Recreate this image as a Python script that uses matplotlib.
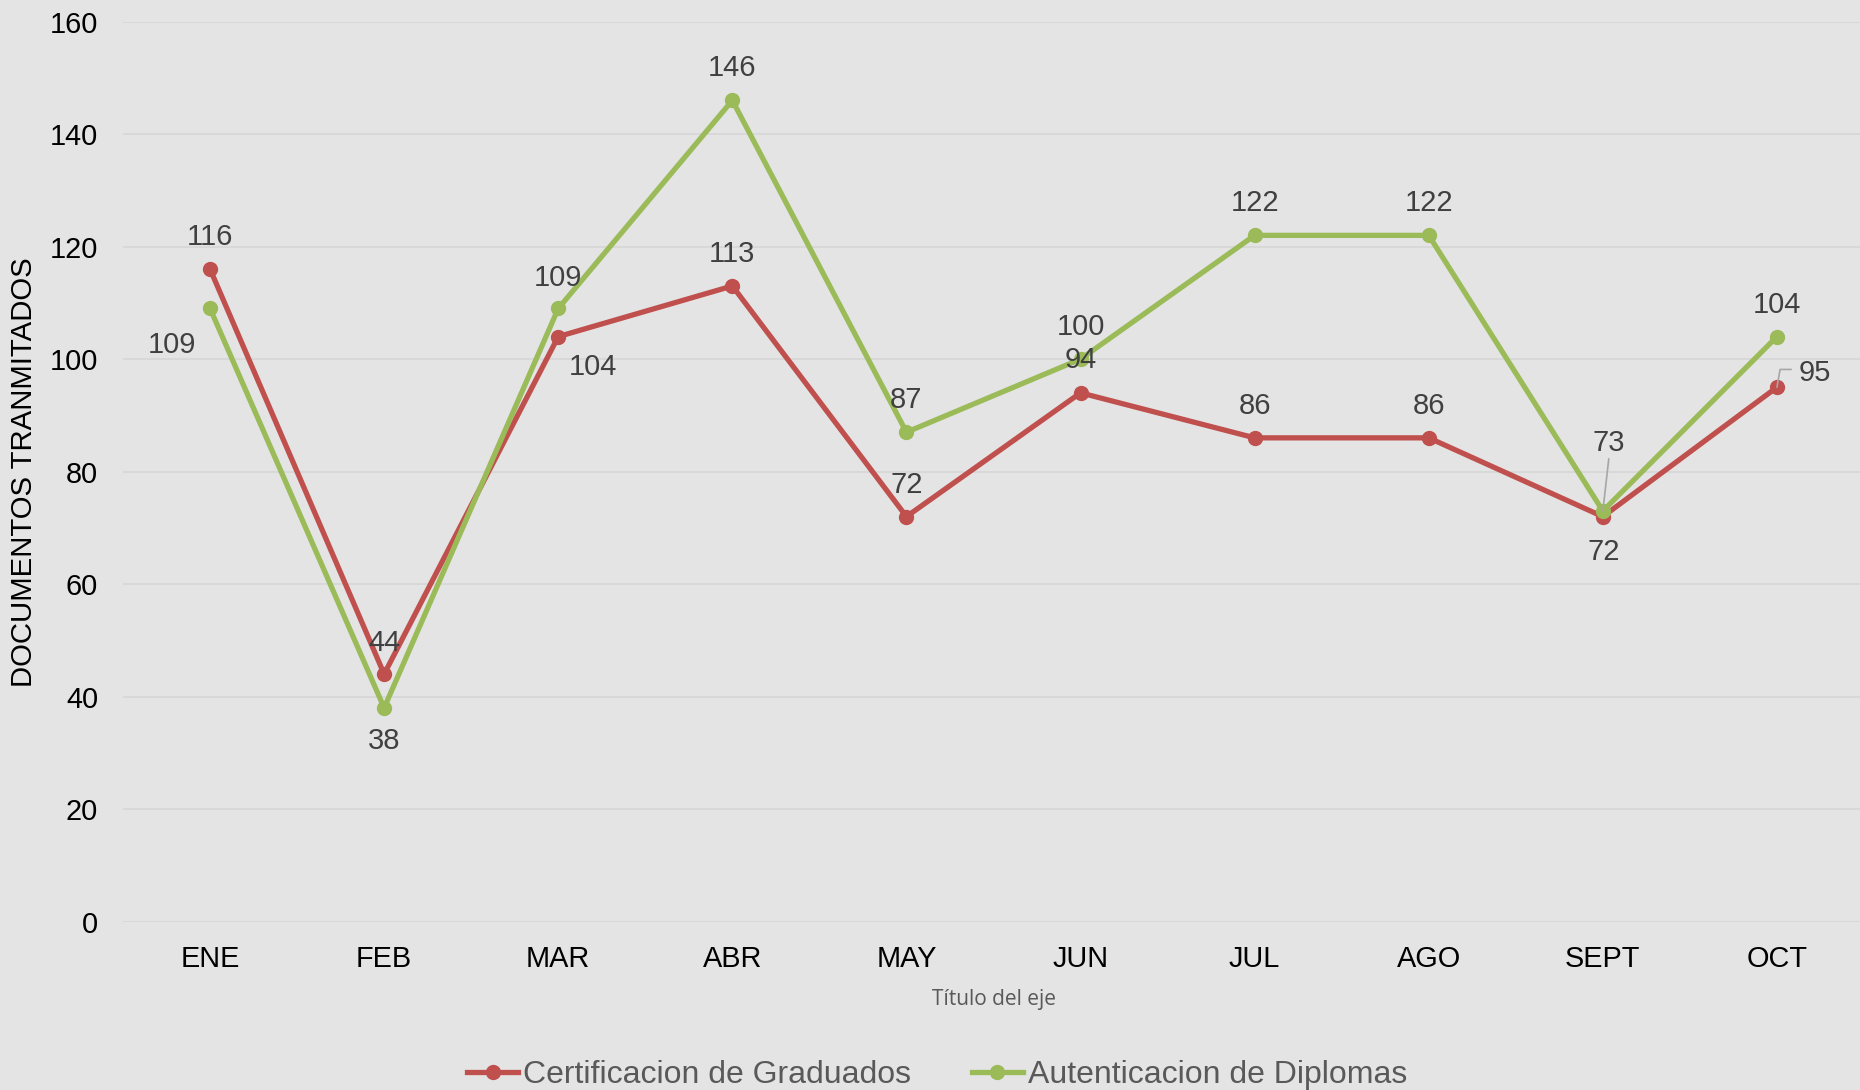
import matplotlib
matplotlib.use("Agg")
import matplotlib.pyplot as plt
from matplotlib.lines import Line2D

months = ["ENE", "FEB", "MAR", "ABR", "MAY", "JUN", "JUL", "AGO", "SEPT", "OCT"]
certificacion = [116, 44, 104, 113, 72, 94, 86, 86, 72, 95]
autenticacion = [109, 38, 109, 146, 87, 100, 122, 122, 73, 104]
yticks = [0, 20, 40, 60, 80, 100, 120, 140, 160]

RED = "#C0504D"
GREEN = "#9BBB59"
BG = "#E4E4E4"
LBL = "#404040"

plt.rcParams['font.family'] = ['Liberation Sans', 'DejaVu Sans']

fig = plt.figure(figsize=(18.6, 10.9), dpi=100)
fig.patch.set_facecolor(BG)
ax = fig.add_axes([123/1860, 1 - 921.6/1090, (1864 - 123)/1860, 900/1090])
ax.set_facecolor(BG)

x = list(range(len(months)))
ax.plot(x, certificacion, color=RED, lw=3.8, marker='o', ms=10, zorder=3,
        solid_capstyle='round')
ax.plot(x, autenticacion, color=GREEN, lw=3.8, marker='o', ms=10, zorder=4,
        solid_capstyle='round')

ax.set_xlim(-0.5, len(months) - 0.5)
ax.set_ylim(0, 160)
ax.set_yticks(yticks)
ax.set_xticks(x)
ax.set_xticklabels(months)
ax.tick_params(axis='both', length=0, labelsize=20.8, colors='black')
ax.tick_params(axis='y', pad=18)
ax.tick_params(axis='x', pad=17)
for s in ax.spines.values():
    s.set_visible(False)
ax.grid(axis='y', color='#D6D6D6', lw=1.2)
ax.set_axisbelow(True)

S = 1.186
# label offsets in (shrunk px) relative to point: dx, dy (dy positive = up)
red_off = [(0, 27), (0, 26), (29, -26), (0, 27), (0, 27), (0, 28), (0, 27), (0, 27), (1, -30), (32, 12)]
green_off = [(-32, -31), (0, -28), (0, 26), (0, 27), (0, 27), (0, 27), (0, 27), (0, 27), (5, 57), (0, 27)]

for i, v in enumerate(certificacion):
    dx, dy = red_off[i]
    ax.annotate(str(v), (i, v), xytext=(dx * S, dy * S), textcoords='offset pixels',
                ha='center', va='center', fontsize=21, color=LBL, zorder=6)
for i, v in enumerate(autenticacion):
    dx, dy = green_off[i]
    ax.annotate(str(v), (i, v), xytext=(dx * S, dy * S), textcoords='offset pixels',
                ha='center', va='center', fontsize=21, color=LBL, zorder=6)

# leader lines
ax.annotate("", xy=(8, autenticacion[8]), xytext=(5 * S, 44 * S), textcoords='offset pixels',
            arrowprops=dict(arrowstyle='-', color='#A6A6A6', lw=1.2, shrinkA=0, shrinkB=0), zorder=7)
ax.annotate("", xy=(9, certificacion[9]), xytext=(12 * S, 15 * S), textcoords='offset pixels',
            arrowprops=dict(arrowstyle='-', color='#A6A6A6', lw=1.2, shrinkA=0, shrinkB=0,
                            connectionstyle='angle,angleA=0,angleB=80,rad=0'), zorder=7)

fig.text(24/1860, 1 - 472/1090, "DOCUMENTOS TRANMITADOS", rotation=90, ha='center', va='center',
         fontsize=21.2, color='black')
fig.text(994/1860, 1 - 999/1090, "Título del eje", ha='center', va='center',
         fontsize=15, color='#595959', family=['Open Sans', 'DejaVu Sans'])

handles = [Line2D([0], [0], color=RED, lw=3.8, marker='o', ms=10),
           Line2D([0], [0], color=GREEN, lw=3.8, marker='o', ms=10)]
leg = fig.legend(handles, ["Certificacion de Graduados", "Autenticacion de Diplomas"],
                 loc='center', bbox_to_anchor=(937/1860, 1 - 1075/1090), ncol=2, frameon=False,
                 handlelength=1.6, handletextpad=0.15, columnspacing=1.9,
                 prop={'family': ['Liberation Sans Narrow', 'Liberation Sans'], 'size': 23})
for t in leg.get_texts():
    t.set_color('#595959')

fig.savefig("out.png", dpi=100, facecolor=BG)
